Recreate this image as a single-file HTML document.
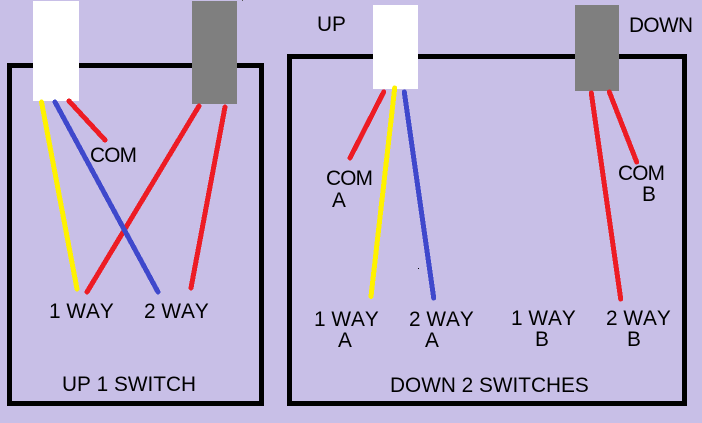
<!DOCTYPE html>
<html>
<head>
<meta charset="utf-8">
<style>
html,body{margin:0;padding:0;background:#c8bfe7;width:702px;height:423px;overflow:hidden}
svg{display:block}
text{font-family:"Liberation Sans",Arial,sans-serif;font-size:20.8px;fill:#000;font-kerning:none}
</style>
</head>
<body>
<svg width="702" height="423" viewBox="0 0 702 423" xmlns="http://www.w3.org/2000/svg">
<rect width="702" height="423" fill="#c8bfe7"/>
<g fill="none" stroke="#000" stroke-width="5">
<rect x="9.5" y="65.5" width="252" height="338"/>
<rect x="289.5" y="56.5" width="395" height="347"/>
</g>
<rect x="33" y="1" width="46" height="100" fill="#fff"/>
<rect x="192" y="1" width="45" height="103" fill="#7f7f7f"/>
<rect x="373" y="5" width="45" height="84" fill="#fff"/>
<rect x="575" y="5" width="44" height="86" fill="#7f7f7f"/>
<g fill="none" stroke-width="5" stroke-linecap="round" shape-rendering="crispEdges">
<line x1="41.5" y1="102" x2="77" y2="289" stroke="#fff200"/>
<line x1="69" y1="101" x2="105" y2="140" stroke="#ed1c24"/>
<line x1="199" y1="106" x2="87" y2="292" stroke="#ed1c24"/>
<line x1="55" y1="102" x2="158" y2="292" stroke="#3f48cc"/>
<line x1="225" y1="107" x2="191" y2="288" stroke="#ed1c24"/>
<line x1="383.7" y1="92" x2="350" y2="158" stroke="#ed1c24"/>
<line x1="394.7" y1="88" x2="371" y2="296.5" stroke="#fff200"/>
<line x1="404.3" y1="92" x2="433.7" y2="298" stroke="#3f48cc"/>
<line x1="591.3" y1="93" x2="620.7" y2="299" stroke="#ed1c24"/>
<line x1="609.3" y1="92" x2="636.7" y2="162" stroke="#ed1c24"/>
</g>
<rect x="418" y="268" width="1" height="1" fill="#000"/>
<rect x="242" y="0" width="1" height="1" fill="#555"/>
<text x="90" y="162" textLength="47">COM</text>
<text x="49" y="318">1 WAY</text>
<text x="144" y="318">2 WAY</text>
<text x="62" y="391">UP 1 SWITCH</text>
<text x="317" y="31">UP</text>
<text x="629" y="32" textLength="64">DOWN</text>
<text x="326" y="185" textLength="47">COM</text>
<text x="332" y="207">A</text>
<text x="618" y="180" textLength="47">COM</text>
<text x="642" y="201">B</text>
<text x="314" y="326">1 WAY</text>
<text x="338" y="347">A</text>
<text x="409" y="326">2 WAY</text>
<text x="425" y="347">A</text>
<text x="511" y="325">1 WAY</text>
<text x="535" y="346">B</text>
<text x="606" y="325">2 WAY</text>
<text x="627" y="346">B</text>
<text x="390" y="392">DOWN 2 SWITCHES</text>
</svg>
</body>
</html>
